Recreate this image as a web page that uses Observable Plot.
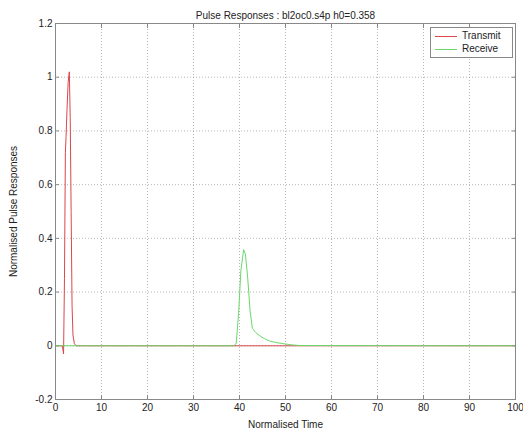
<!DOCTYPE html>
<html>
<head>
<meta charset="utf-8">
<script src="https://cdn.jsdelivr.net/npm/d3@7"></script>
<script src="https://cdn.jsdelivr.net/npm/@observablehq/plot@0.6"></script>
<style>
  html, body { margin: 0; padding: 0; background: #fff; }
  #wrap { position: relative; width: 523px; height: 430px; font-family: "Liberation Sans", Arial, sans-serif; }
  #legend { position: absolute; left: 430px; top: 27px; width: 81px; height: 29px; border: 1px solid #888; background: #fff; font-size: 10px; color: #222; }
  .row { position: absolute; left: 0; height: 12px; line-height: 12px; }
  .sw { position: absolute; left: 4px; top: 6px; width: 22px; height: 0; border-top: 1px solid; }
  .lab { position: absolute; left: 31px; top: 0; white-space: nowrap; }
</style>
</head>
<body>
<div id="wrap"></div>
<script>
const title = "Pulse Responses : bl2oc0.s4p h0=0.358";
const xLabel = "Normalised Time";
const yLabel = "Normalised Pulse Responses";
const seriesNames = ["Transmit", "Receive"];
const seriesColors = ["#d9474d", "#6ad86a"];
const xTicks = [0, 10, 20, 30, 40, 50, 60, 70, 80, 90, 100];
const yTicks = [-0.2, 0, 0.2, 0.4, 0.6, 0.8, 1, 1.2];

// Transmit pulse
const txTime  = [0, 1.5, 1.75, 1.95, 2.15, 2.3, 2.5, 2.75, 3.0, 3.2, 3.4, 3.6, 3.8, 4.1, 4.5, 100];
const txValue = [0, 0, -0.03, 0.25, 0.72, 0.78, 0.88, 0.98, 1.02, 0.85, 0.5, 0.15, 0.04, 0.008, 0, 0];
// Receive pulse
const rxTime  = [0, 38.8, 39.3, 39.8, 40.3, 40.9, 41.3, 41.8, 42.3, 42.8, 43.5, 44.5, 45.5, 46.5, 48, 49.5, 51, 53, 100];
const rxValue = [0, 0, 0.01, 0.12, 0.28, 0.358, 0.34, 0.25, 0.13, 0.065, 0.05, 0.036, 0.026, 0.018, 0.012, 0.008, 0.004, 0.001, 0];

const tx = txTime.map((t, i) => ({t, v: txValue[i]}));
const rx = rxTime.map((t, i) => ({t, v: rxValue[i]}));
const fmt = d => String(+d.toFixed(1));
const blank = () => "";

const plot = Plot.plot({
  width: 523,
  height: 430,
  marginLeft: 55,
  marginRight: 8,
  marginTop: 23,
  marginBottom: 31,
  style: {fontFamily: "Liberation Sans, Arial, sans-serif", fontSize: "10px", color: "#222", background: "#fff"},
  x: {domain: [0, 100]},
  y: {domain: [-0.2, 1.2]},
  marks: [
    Plot.gridX(xTicks, {stroke: "#999", strokeOpacity: 0.7, strokeDasharray: "1,2"}),
    Plot.gridY(yTicks, {stroke: "#999", strokeOpacity: 0.7, strokeDasharray: "1,2"}),
    Plot.axisX(xTicks, {anchor: "bottom", tickSize: -4, tickPadding: 8, tickFormat: fmt, stroke: "#888", label: xLabel, labelAnchor: "center", labelArrow: "none", labelOffset: 28, fontSize: 10}),
    Plot.axisX(xTicks, {anchor: "top", tickSize: -4, tickFormat: blank, stroke: "#888", label: null}),
    Plot.axisY(yTicks, {anchor: "left", tickSize: -4, tickPadding: 7, tickFormat: fmt, stroke: "#888", label: yLabel, labelAnchor: "center", labelArrow: "none", labelOffset: 46, fontSize: 10}),
    Plot.axisY(yTicks, {anchor: "right", tickSize: -4, tickFormat: blank, stroke: "#888", label: null}),
    Plot.line(tx, {x: "t", y: "v", stroke: seriesColors[0], strokeWidth: 1}),
    Plot.line(rx, {x: "t", y: "v", stroke: seriesColors[1], strokeWidth: 1}),
    Plot.frame({stroke: "#888"}),
    Plot.text([title], {frameAnchor: "top", dy: -12, fontSize: 10, fill: "#222"})
  ]
});
const wrap = document.getElementById("wrap");
wrap.appendChild(plot);
const leg = document.createElement("div");
leg.id = "legend";
seriesNames.forEach((n, i) => {
  const r = document.createElement("div");
  r.className = "row";
  r.style.top = (2 + i * 13) + "px";
  r.style.width = "100%";
  r.innerHTML = `<div class="sw" style="border-color:${seriesColors[i]}"></div><div class="lab">${n}</div>`;
  leg.appendChild(r);
});
wrap.appendChild(leg);
</script>
</body>
</html>
